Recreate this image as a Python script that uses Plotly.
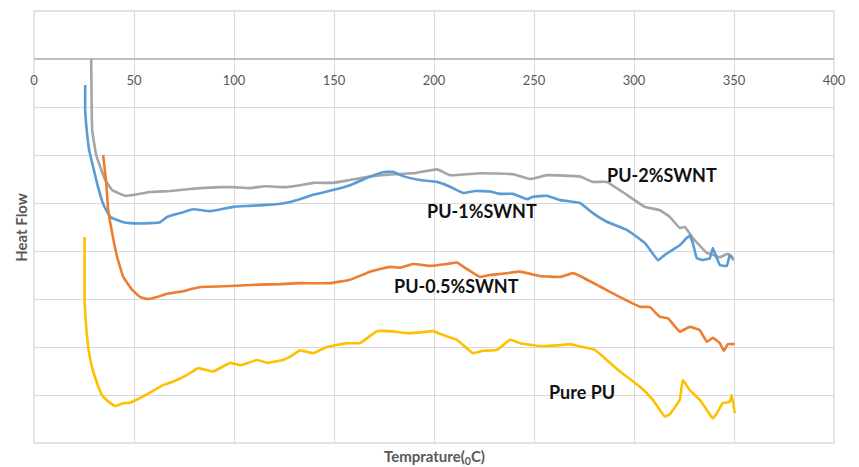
import plotly.graph_objects as go

# DSC heat-flow traces (temperature in °C, heat flow in arbitrary grid units)
t_pu2 = [28.6, 29.1, 31.1, 35.6, 39.1, 45.6, 58.1, 68.1, 83.1, 93.1, 99.6, 108.1, 115.6,
         125.5, 133.0, 139.5, 149.5, 158.0, 173.0, 189.5, 201.5, 208.0, 223.0, 239.5,
         248.0, 256.5, 273.0, 279.4, 286.4, 296.4, 305.4, 312.9, 317.9, 322.9, 325.4,
         329.4, 336.4, 339.4, 342.9, 346.9, 349.9]
hf_pu2 = [0.0, -1.48, -2.0, -2.52, -2.73, -2.85, -2.77, -2.75, -2.69, -2.67, -2.67, -2.69,
          -2.65, -2.67, -2.63, -2.58, -2.58, -2.52, -2.42, -2.38, -2.30, -2.42, -2.38,
          -2.40, -2.50, -2.42, -2.45, -2.56, -2.56, -2.83, -3.08, -3.15, -3.29, -3.52,
          -3.50, -3.73, -4.04, -4.08, -4.13, -4.06, -4.19]

t_pu1 = [25.6, 25.6, 26.6, 27.6, 31.6, 34.6, 38.1, 44.6, 48.1, 58.1, 63.1, 66.6, 73.1,
         79.6, 88.1, 99.6, 108.1, 116.6, 125.5, 133.0, 139.5, 149.5, 158.0, 168.0, 174.5,
         179.5, 184.5, 193.0, 201.5, 208.0, 214.5, 220.5, 228.0, 233.0, 239.5, 246.5,
         249.5, 256.5, 263.0, 273.0, 279.4, 286.4, 296.4, 305.4, 312.0, 315.4, 322.9,
         325.4, 327.9, 329.4, 331.4, 334.4, 337.9, 339.4, 342.9, 346.4, 347.9, 349.4]
hf_pu1 = [-0.54, -1.06, -1.58, -1.90, -2.60, -3.02, -3.29, -3.40, -3.42, -3.42, -3.40,
          -3.29, -3.21, -3.13, -3.17, -3.08, -3.06, -3.04, -3.00, -2.92, -2.83, -2.73,
          -2.63, -2.45, -2.36, -2.35, -2.44, -2.52, -2.56, -2.66, -2.79, -2.75, -2.76,
          -2.81, -2.81, -2.92, -2.87, -2.85, -2.94, -3.00, -3.21, -3.39, -3.56, -3.83,
          -4.19, -4.08, -3.88, -3.77, -3.68, -3.83, -4.15, -4.19, -4.15, -3.94, -4.29,
          -4.31, -4.08, -4.15]

t_pu05 = [34.6, 36.1, 37.1, 39.1, 41.6, 44.6, 49.1, 53.1, 57.1, 61.6, 65.6, 73.1, 83.1,
          98.1, 113.1, 123.0, 133.0, 148.0, 158.0, 168.0, 178.0, 183.0, 189.5, 198.0,
          206.5, 211.5, 215.5, 223.0, 228.0, 233.0, 243.0, 253.0, 263.0, 269.5, 273.0,
          283.0, 293.0, 303.0, 308.0, 312.9, 316.9, 322.9, 327.9, 332.9, 336.4, 339.4,
          342.9, 344.9, 346.9, 350.4]
hf_pu05 = [-2.0, -2.58, -3.15, -3.63, -4.13, -4.54, -4.81, -4.96, -5.0, -4.96, -4.90,
           -4.85, -4.75, -4.73, -4.70, -4.69, -4.67, -4.67, -4.60, -4.43, -4.33, -4.35,
           -4.27, -4.31, -4.27, -4.24, -4.35, -4.54, -4.50, -4.48, -4.43, -4.52, -4.54,
           -4.46, -4.52, -4.74, -4.96, -5.16, -5.17, -5.37, -5.40, -5.68, -5.58, -5.65,
           -5.89, -5.81, -5.92, -6.08, -5.94, -5.94]

t_pure = [25.3, 25.3, 26.1, 27.3, 29.0, 31.5, 34.0, 37.3, 40.6, 44.6, 48.1, 53.1, 58.1,
          64.6, 69.6, 76.6, 82.1, 89.6, 98.1, 103.1, 111.6, 116.6, 124.5, 128.1, 133.0,
          139.5, 146.5, 156.5, 163.0, 171.5, 178.0, 186.5, 194.5, 199.5, 204.5, 211.5,
          219.5, 224.5, 231.5, 238.0, 243.0, 253.0, 263.0, 268.0, 273.0, 280.4, 286.4,
          293.0, 303.0, 309.4, 315.4, 317.9, 322.9, 324.4, 327.9, 332.9, 336.4, 339.4,
          341.4, 344.4, 347.9, 348.9, 350.4]
hf_pure = [-3.71, -5.02, -5.58, -6.06, -6.42, -6.75, -7.0, -7.14, -7.23, -7.17, -7.16,
           -7.06, -6.95, -6.79, -6.72, -6.58, -6.44, -6.51, -6.33, -6.38, -6.27, -6.33,
           -6.27, -6.20, -6.07, -6.13, -6.0, -5.92, -5.92, -5.67, -5.67, -5.71, -5.69,
           -5.67, -5.75, -5.85, -6.13, -6.08, -6.06, -5.85, -5.92, -5.98, -5.96, -5.94,
           -5.99, -6.06, -6.27, -6.51, -6.83, -7.10, -7.45, -7.40, -7.10, -6.69, -6.90,
           -7.10, -7.31, -7.49, -7.38, -7.17, -7.14, -7.0, -7.38]

series_names = ["PU-2%SWNT", "PU-1%SWNT", "PU-0.5%SWNT", "Pure PU"]
series_x = [t_pu2, t_pu1, t_pu05, t_pure]
series_y = [hf_pu2, hf_pu1, hf_pu05, hf_pure]
series_colors = ["#a5a5a5", "#5b9bd5", "#ed7d31", "#ffc000"]

# label anchor points (temperature, heat flow)
label_t = [313.8, 224.2, 211.0, 274.2]
label_hf = [-2.42, -3.17, -4.72, -6.93]

x_ticks = [0, 50, 100, 150, 200, 250, 300, 350, 400]

FONT = "Lato"
GRID = "#d9d9d9"

fig = go.Figure()
for name, xs, ys, col in zip(series_names, series_x, series_y, series_colors):
    fig.add_trace(go.Scatter(x=xs, y=ys, mode="lines", name=name,
                             line=dict(color=col, width=2.6, shape="spline", smoothing=0.3)))

for name, lt, lh in zip(series_names, label_t, label_hf):
    fig.add_annotation(x=lt, y=lh, xref="x", yref="y", text=f"<b>{name}</b>",
                       showarrow=False, font=dict(family=FONT, size=18, color="#111111"))

y_lo, y_hi = -8, 1
fig.update_layout(
    width=859, height=467,
    margin=dict(l=34, r=25, t=11, b=24),
    paper_bgcolor="white", plot_bgcolor="white",
    showlegend=False,
    xaxis=dict(range=[0, 400], tickvals=x_ticks, ticktext=[str(v) for v in x_ticks],
               showgrid=True, gridcolor=GRID, gridwidth=1.3,
               zeroline=False, showline=False,
               anchor="free", position=(0 - y_lo) / (y_hi - y_lo),
               ticks="outside", ticklen=9, tickcolor="rgba(0,0,0,0)",
               tickfont=dict(family=FONT, size=13, color="#595959")),
    yaxis=dict(range=[y_lo, y_hi], dtick=1, showticklabels=False,
               showgrid=True, gridcolor=GRID, gridwidth=1.3,
               zeroline=True, zerolinecolor="#bfbfbf", zerolinewidth=1.6,
               showline=False),
    shapes=[dict(type="rect", xref="paper", yref="paper", x0=0, x1=1, y0=0, y1=1,
                 line=dict(color=GRID, width=1.3), layer="below")],
)

# axis titles
fig.add_annotation(x=-0.0165, y=0.5, xref="paper", yref="paper", text="<b>Heat Flow</b>",
                   textangle=-90, showarrow=False, xanchor="center", yanchor="middle",
                   font=dict(family=FONT, size=15, color="#595959"))
fig.add_annotation(x=0.5, y=-0.032, xref="paper", yref="paper",
                   text="<b>Temprature(<sub>0</sub>C)</b>",
                   showarrow=False, xanchor="center", yanchor="middle",
                   font=dict(family=FONT, size=15, color="#595959"))

fig.write_html("out.html")
